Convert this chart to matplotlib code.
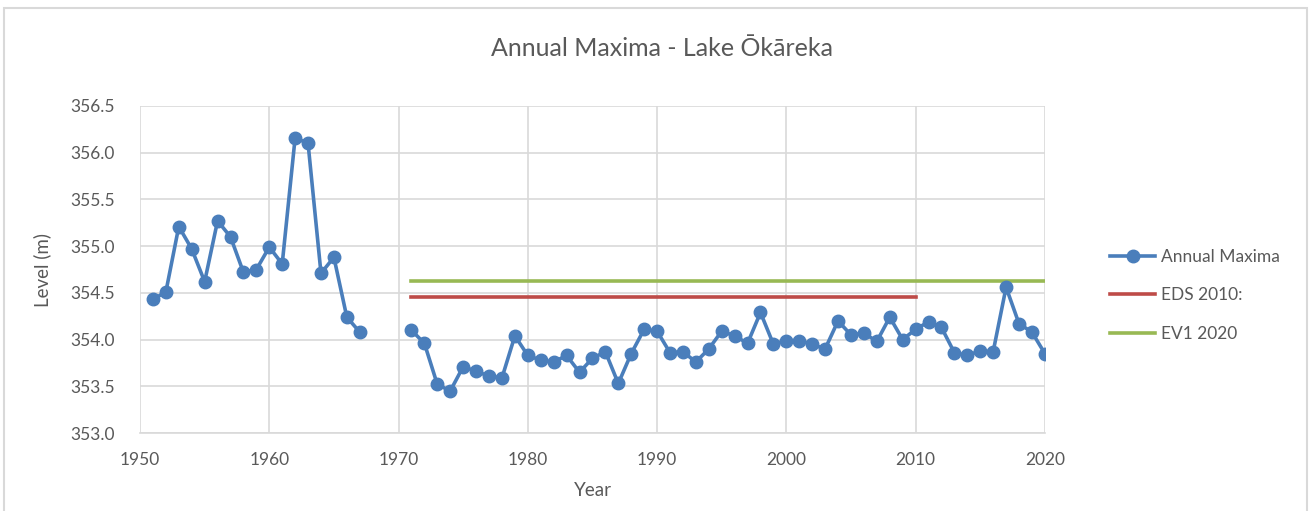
import numpy as np
import matplotlib.pyplot as plt
from matplotlib.patches import Rectangle

plt.rcParams['font.family'] = ['Lato', 'DejaVu Sans']

years_a = list(range(1951, 1968))
levels_a = [354.43, 354.51, 355.21, 354.97, 354.62, 355.27, 355.10, 354.72, 354.75,
            354.99, 354.81, 356.16, 356.10, 354.71, 354.88, 354.24, 354.08]
years_b = list(range(1971, 2021))
levels_b = [354.10, 353.96, 353.52, 353.45, 353.71, 353.66, 353.61, 353.59, 354.04,
            353.83, 353.78, 353.76, 353.83, 353.65, 353.80, 353.87, 353.53, 353.85,
            354.11, 354.09, 353.86, 353.87, 353.76, 353.90, 354.09, 354.04, 353.96,
            354.29, 353.95, 353.99, 353.99, 353.95, 353.90, 354.20, 354.05, 354.07,
            353.98, 354.24, 354.00, 354.11, 354.19, 354.13, 353.86, 353.83, 353.88,
            353.87, 354.56, 354.17, 354.08, 353.85]
gap_years = [1968, 1969, 1970]

years = years_a + gap_years + years_b
levels = levels_a + [np.nan] * len(gap_years) + levels_b

eds_years = [1971, 2010]
eds_level = 354.46
ev1_years = [1971, 2020]
ev1_level = 354.63

blue = '#4a7ebb'
red = '#be4b48'
green = '#98b954'
text_col = '#595959'
grid_col = '#d9d9d9'

fig = plt.figure(figsize=(13.11, 5.11), dpi=100)
ax = fig.add_axes([0.1068, 0.1526, 0.6902, 0.64])

ax.plot(years, levels, color=blue, lw=2.6, marker='o', markersize=9,
        label='Annual Maxima', zorder=3)
ax.plot(eds_years, [eds_level] * 2, color=red, lw=2.6, label='EDS 2010:', zorder=2)
ax.plot(ev1_years, [ev1_level] * 2, color=green, lw=2.6, label='EV1 2020', zorder=2)

ax.set_xlim(1950, 2020)
ax.set_ylim(353.0, 356.5)
ax.set_xticks(np.arange(1950, 2021, 10))
ax.set_yticks(np.arange(353.0, 356.51, 0.5))
ax.yaxis.set_major_formatter(plt.FormatStrFormatter('%.1f'))
ax.grid(True, color=grid_col, lw=1.2)
ax.set_axisbelow(True)
for s in ['top', 'right', 'left']:
    ax.spines[s].set_visible(False)
ax.spines['bottom'].set_color(grid_col)
ax.spines['bottom'].set_linewidth(1.2)
ax.tick_params(axis='x', length=0, labelsize=12.5, colors=text_col, pad=14)
ax.tick_params(axis='y', length=0, labelsize=12.5, colors=text_col, pad=18)

ax.set_xlabel('Year', fontsize=13.5, color=text_col, labelpad=10)
ax.set_ylabel('Level (m)', fontsize=13.5, color=text_col, labelpad=14)
fig.text(0.505, 0.905, 'Annual Maxima - Lake Ōkāreka', ha='center', va='center',
         fontsize=18, color=text_col)

fig.legend(loc='center left', bbox_to_anchor=(0.835, 0.422), frameon=False,
           fontsize=12.5, labelcolor=text_col, handlelength=2.6, labelspacing=1.3,
           handletextpad=0.3)

fig.add_artist(Rectangle((0.003, -0.01), 0.994, 0.995, transform=fig.transFigure,
                         fill=False, edgecolor='#d9d9d9', lw=1.5))

fig.savefig('out.png', dpi=100)
